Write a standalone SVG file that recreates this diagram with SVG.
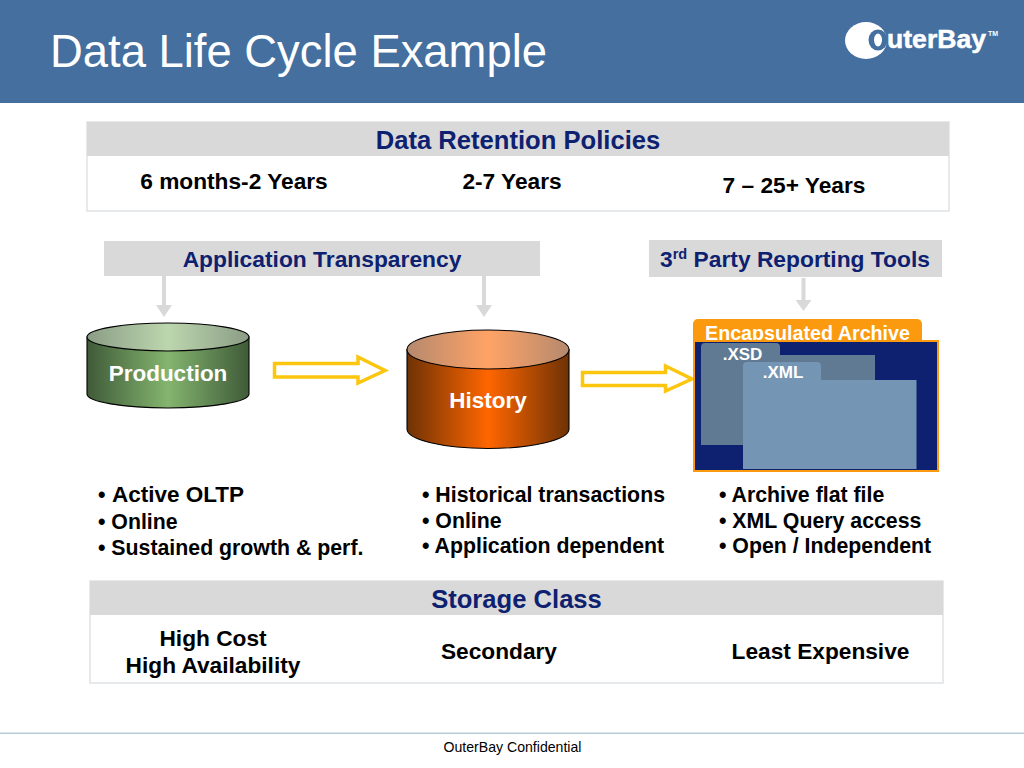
<svg xmlns="http://www.w3.org/2000/svg" width="1024" height="768" viewBox="0 0 1024 768">
<defs>
<linearGradient id="gs" x1="0" x2="1" y1="0" y2="0"><stop offset="0" stop-color="#3f5a38"/><stop offset="0.5" stop-color="#84b56f"/><stop offset="1" stop-color="#3f5a38"/></linearGradient>
<linearGradient id="gt" x1="0" x2="1" y1="0" y2="0"><stop offset="0" stop-color="#8b9d85"/><stop offset="0.5" stop-color="#bcd6ae"/><stop offset="1" stop-color="#8b9d85"/></linearGradient>
<linearGradient id="os" x1="0" x2="1" y1="0" y2="0"><stop offset="0" stop-color="#6e3205"/><stop offset="0.5" stop-color="#ff6600"/><stop offset="1" stop-color="#6e3205"/></linearGradient>
<linearGradient id="ot" x1="0" x2="1" y1="0" y2="0"><stop offset="0" stop-color="#b5896e"/><stop offset="0.5" stop-color="#ffa366"/><stop offset="1" stop-color="#b5896e"/></linearGradient>
<clipPath id="tabclip"><rect x="690" y="316" width="240" height="24"/></clipPath>
<style>
text{font-family:"Liberation Sans",Arial,sans-serif}
.b{font-weight:bold;font-size:21.3px}
.k{fill:#000;font-weight:bold;font-size:22.7px}
.n{fill:#0d2170;font-weight:bold;font-size:22.8px}
.h{fill:#0d2170;font-weight:bold;font-size:25.6px}
.w{fill:#fff;font-weight:bold}
.m{text-anchor:middle}
.g{fill:#d9d9d9}
.frame{fill:#fff;stroke:#dfe3e6;stroke-width:1.5}
.cyl{stroke:#000;stroke-width:1.1}
.ya{fill:#fff;stroke:#fcc60e;stroke-width:3.5}
</style>
</defs>
<rect width="1024" height="768" fill="#fff"/>
<g id="header">
<rect width="1024" height="103" fill="#446f9f"/>
<text x="50" y="67" font-size="45.4" fill="#fff">Data Life Cycle Example</text>
</g>
<g id="logo">
<ellipse cx="866" cy="40.500" rx="21" ry="18.500" fill="#fff"/>
<ellipse cx="878" cy="40" rx="9.500" ry="10.500" fill="#446f9f"/>
<ellipse cx="878" cy="40" rx="4" ry="6.500" fill="#fff"/>
<text x="887" y="48" font-size="26.500" class="w" textLength="99" lengthAdjust="spacingAndGlyphs" stroke="#fff" stroke-width="0.500">uterBay</text>
<text x="988" y="36" font-size="7" class="w">TM</text>
</g>
<g id="retention">
<rect class="frame" x="87" y="122" width="862" height="89"/>
<rect class="g" x="87" y="122" width="862" height="34"/>
<text class="h m" x="518" y="148.500">Data Retention Policies</text>
<text class="k m" x="234" y="189">6 months-2 Years</text>
<text class="k m" x="512" y="189">2-7 Years</text>
<text class="k m" x="794" y="193">7 – 25+ Years</text>
</g>
<g id="transparency">
<rect class="g" x="104" y="241" width="436" height="35"/>
<text class="n m" x="322" y="266.500">Application Transparency</text>
</g>
<g id="reporting">
<rect class="g" x="649" y="240" width="293" height="37"/>
<text class="n m" x="795" y="267">3<tspan font-size="14.500" dy="-8">rd</tspan><tspan dy="8"> Party Reporting Tools</tspan></text>
</g>
<g id="connectors">
<path class="g" d="M162 276h4v29h6l-8 12-8-12h6z"/>
<path class="g" d="M482 276h4v29h6l-8 12-8-12h6z"/>
<path class="g" d="M801.500 278h4v22h6l-8 11-8-11h6z"/>
<path class="ya" d="M274.500 363.500H358V357L385 370.500 358 383V377H274.500z"/>
<path class="ya" d="M582.500 372.500H665.500V366L692 379 665.500 391V385.500H582.500z"/>
</g>
<g id="production">
<path class="cyl" fill="url(#gs)" d="M87 337V394A81 14 0 0 0 249 394V337z"/>
<ellipse class="cyl" fill="url(#gt)" cx="168" cy="337" rx="81" ry="14"/>
<text class="w m" x="168" y="381" font-size="22.500">Production</text>
</g>
<g id="history">
<path class="cyl" fill="url(#os)" d="M407 349.500V429A81 19.500 0 0 0 569 429V349.500z"/>
<ellipse class="cyl" fill="url(#ot)" cx="488" cy="349.500" rx="81" ry="19.500"/>
<text class="w m" x="488" y="408" font-size="22.500">History</text>
</g>
<g id="archive">
<rect x="693" y="319" width="229" height="30" rx="5" fill="#fb9a0e"/>
<text class="w m" x="807.500" y="340" font-size="19.700" clip-path="url(#tabclip)">Encapsulated Archive</text>
<rect x="694" y="341" width="244" height="130" fill="#0d2170" stroke="#fb9a0e" stroke-width="2"/>
<path fill="#607a93" d="M701 347q0-4 4-4h71q4 0 4 4v8h95v90H701z"/>
<text class="w m" x="742.500" y="360" font-size="17">.XSD</text>
<path fill="#7595b5" d="M743 366q0-4 4-4h70q4 0 4 4v14h95.500v89H743z"/>
<text class="w m" x="783" y="378" font-size="17">.XML</text>
</g>
<g id="production-notes">
<text x="98" y="502" font-size="21.300" font-weight="bold">•<tspan x="112" font-size="22.500">Active OLTP</tspan></text>
<text class="b" x="98" y="528.500">• Online</text>
<text class="b" x="98" y="554.500">• Sustained growth &amp; perf.</text>
</g>
<g id="history-notes">
<text class="b" x="422" y="501.500">• Historical transactions</text>
<text class="b" x="422" y="527.500">• Online</text>
<text class="b" x="422" y="553">• Application dependent</text>
</g>
<g id="archive-notes">
<text class="b" x="719" y="501.500">• Archive flat file</text>
<text class="b" x="719" y="527.500">• XML Query access</text>
<text class="b" x="719" y="553">• Open / Independent</text>
</g>
<g id="storage">
<rect class="frame" x="90" y="581" width="853" height="102"/>
<rect class="g" x="90" y="581" width="853" height="34"/>
<text class="h m" x="516.500" y="607.500">Storage Class</text>
<text class="k m" x="213" y="646">High Cost</text>
<text class="k m" x="213" y="673">High Availability</text>
<text class="k m" x="499" y="659">Secondary</text>
<text class="k m" x="820.500" y="659">Least Expensive</text>
</g>
<g id="footer">
<rect x="0" y="732.500" width="1024" height="1.500" fill="#b9cbd6"/>
<text class="m" x="512.500" y="752" font-size="14.100" fill="#000">OuterBay Confidential</text>
</g>
</svg>
